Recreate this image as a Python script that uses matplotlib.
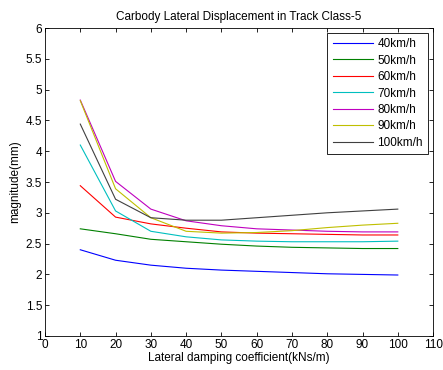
import numpy as np
import matplotlib.pyplot as plt

plt.rcParams['font.family'] = ['Liberation Sans', 'DejaVu Sans']
plt.rcParams['font.size'] = 8.5

# Lateral damping coefficient (kNs/m)
damping = [10, 20, 30, 40, 50, 60, 70, 80, 90, 100]

# Peak carbody lateral displacement (mm) per speed
v40 = [2.40, 2.23, 2.15, 2.10, 2.07, 2.05, 2.03, 2.01, 2.00, 1.99]
v50 = [2.74, 2.66, 2.57, 2.53, 2.49, 2.46, 2.44, 2.43, 2.42, 2.42]
v60 = [3.44, 2.93, 2.82, 2.75, 2.69, 2.67, 2.66, 2.65, 2.64, 2.64]
v70 = [4.10, 3.03, 2.70, 2.61, 2.56, 2.54, 2.53, 2.53, 2.53, 2.54]
v80 = [4.83, 3.51, 3.06, 2.87, 2.79, 2.74, 2.72, 2.70, 2.69, 2.69]
v90 = [4.82, 3.39, 2.92, 2.70, 2.67, 2.68, 2.71, 2.76, 2.80, 2.83]
v100 = [4.44, 3.22, 2.92, 2.88, 2.88, 2.92, 2.96, 3.00, 3.03, 3.06]

speeds = ['40km/h', '50km/h', '60km/h', '70km/h', '80km/h', '90km/h', '100km/h']
series = [v40, v50, v60, v70, v80, v90, v100]
colors = ['#0000ff', '#008000', '#ff0000', '#00bfbf', '#bf00bf', '#bfbf00', '#404040']

fig = plt.figure(figsize=(4.43, 3.70), dpi=100)
ax = fig.add_axes([0.1016, 0.0919, 0.876, 0.8324])

for vals, lab, col in zip(series, speeds, colors):
    ax.plot(damping, vals, color=col, linewidth=0.8, label=lab)

ax.set_xlim(0, 110)
ax.set_ylim(1, 6)
ax.set_xticks(np.arange(0, 111, 10))
ax.set_yticks(np.arange(1, 6.01, 0.5))
ax.set_yticklabels(['1', '1.5', '2', '2.5', '3', '3.5', '4', '4.5', '5', '5.5', '6'])
ax.tick_params(direction='in', top=True, right=True, length=3, width=0.6, pad=2)
for s in ax.spines.values():
    s.set_linewidth(0.6)

ax.set_title('Carbody Lateral Displacement in Track Class-5', fontsize=8.5, pad=6)
ax.set_xlabel('Lateral damping coefficient(kNs/m)', labelpad=1)
ax.set_ylabel('magnitude(mm)', labelpad=3)

leg = ax.legend(loc='upper right', fancybox=False, edgecolor='black', framealpha=1,
                handlelength=3.4, labelspacing=0.38, borderpad=0.45,
                handletextpad=0.4, borderaxespad=0.4)
leg.get_frame().set_linewidth(0.6)

fig.savefig('out.png', dpi=100)
